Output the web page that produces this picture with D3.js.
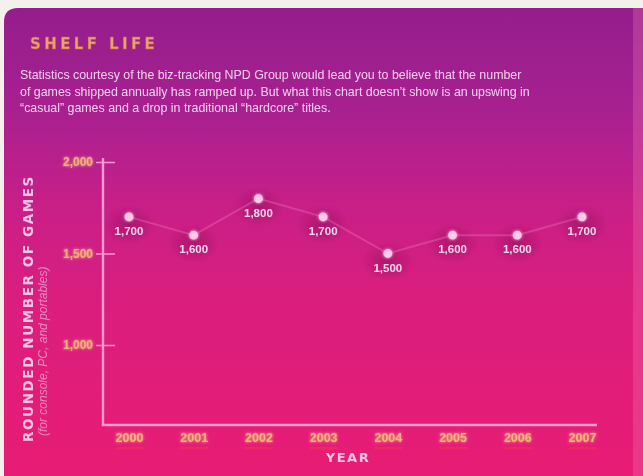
<!DOCTYPE html>
<html>
<head>
<meta charset="utf-8">
<script src="https://cdn.jsdelivr.net/npm/d3@7"></script>
<style>
  html, body { margin: 0; padding: 0; background: #f4f0ec; }
  svg { display: block; }
</style>
</head>
<body>
<svg id="chart" width="643" height="476"></svg>
<script>
// ---- data ----
const years = ["2000", "2001", "2002", "2003", "2004", "2005", "2006", "2007"];
const games = [1700, 1600, 1800, 1700, 1500, 1600, 1600, 1700];
const yTicks = [1000, 1500, 2000];
const titleText = "SHELF LIFE";
const bodyLines = [
  "Statistics courtesy of the biz-tracking NPD Group would lead you to believe that the number",
  "of games shipped annually has ramped up. But what this chart doesn\u2019t show is an upswing in",
  "\u201ccasual\u201d games and a drop in traditional \u201chardcore\u201d titles."
];
const yTitle = "ROUNDED NUMBER OF GAMES";
const ySubTitle = "(for console, PC, and portables)";
const xTitle = "YEAR";

// ---- drawing ----
const svg = d3.select("#chart");
const W = 643, H = 476;
const defs = svg.append("defs");

const bg = defs.append("linearGradient").attr("id", "bg")
  .attr("x1", 0).attr("y1", 0).attr("x2", 0).attr("y2", 1);
[["0%", "#941e8c"], ["22%", "#a82090"], ["42%", "#c81f88"], ["62%", "#da1e7e"], ["100%", "#e81c74"]]
  .forEach(([o, c]) => bg.append("stop").attr("offset", o).attr("stop-color", c));

const spot = defs.append("radialGradient").attr("id", "spot");
[["0%", "#8a0f55", 0.5], ["60%", "#8a0f55", 0.22], ["100%", "#8a0f55", 0]]
  .forEach(([o, c, op]) => spot.append("stop").attr("offset", o).attr("stop-color", c).attr("stop-opacity", op));

const glow = defs.append("filter").attr("id", "glow").attr("x", "-50%").attr("y", "-50%").attr("width", "200%").attr("height", "200%");
glow.append("feGaussianBlur").attr("stdDeviation", 1.6).attr("result", "b");
const gm = glow.append("feMerge");
gm.append("feMergeNode").attr("in", "b");
gm.append("feMergeNode").attr("in", "SourceGraphic");

const soft = defs.append("filter").attr("id", "soft").attr("x", "-10%").attr("y", "-30%").attr("width", "120%").attr("height", "160%");
soft.append("feGaussianBlur").attr("stdDeviation", 0.4);

// panel
svg.append("path")
  .attr("d", `M4,${H} L4,22 Q4,8 18,8 L${W},8 L${W},${H} Z`)
  .attr("fill", "url(#bg)");
svg.append("rect").attr("x", 633).attr("y", 8).attr("width", 10).attr("height", H - 8)
  .attr("fill", "#f27ab0").attr("opacity", 0.3);

// title
svg.append("text")
  .attr("x", 30).attr("y", 49)
  .attr("font-family", "DejaVu Sans, sans-serif")
  .attr("font-weight", "bold")
  .attr("font-size", 15)
  .attr("letter-spacing", 3.4)
  .attr("fill", "#e6a46a")
  .attr("stroke", "#c46a52").attr("stroke-width", 0.4)
  .attr("filter", "url(#soft)")
  .text(titleText);

// body
svg.append("g").selectAll("text").data(bodyLines).join("text")
  .attr("x", 20).attr("y", (d, i) => 79 + i * 16.5)
  .attr("font-family", "Liberation Sans, Arial, sans-serif")
  .attr("font-size", 12.4)
  .attr("fill", "#f6d2ec")
  .attr("filter", "url(#soft)")
  .text(d => d);

// scales
const x = d3.scalePoint().domain(years).range([129, 582]);
const y = d3.scaleLinear().domain([1000, 2000]).range([345, 162]);
const axisX = 103, axisBottom = 425, axisRight = 597;

// axes lines
const axisColor = "#f59ad0";
svg.append("line").attr("x1", axisX).attr("x2", axisX).attr("y1", y(2000) - 4).attr("y2", axisBottom)
  .attr("stroke", axisColor).attr("stroke-width", 2.4);
svg.append("line").attr("x1", axisX - 1.2).attr("x2", axisRight).attr("y1", axisBottom).attr("y2", axisBottom)
  .attr("stroke", axisColor).attr("stroke-width", 2.4);

// y axis ticks via d3 axis
const yAxis = svg.append("g")
  .attr("transform", `translate(${axisX},0)`)
  .call(d3.axisLeft(y).tickValues(yTicks).tickFormat(d3.format(",")).tickSize(8).tickPadding(2));
yAxis.select(".domain").remove();
yAxis.selectAll(".tick line").attr("stroke", axisColor).attr("stroke-width", 1.5).attr("x2", 12).attr("x1", -7);
yAxis.selectAll(".tick text")
  .attr("font-family", "Liberation Sans, Arial, sans-serif")
  .attr("font-weight", "bold")
  .attr("font-size", 12)
  .attr("fill", "#f0b27a")
  .attr("filter", "url(#glow)");

// x axis labels via d3 axis
const xAxis = svg.append("g")
  .attr("transform", `translate(0,${axisBottom})`)
  .call(d3.axisBottom(x).tickSize(0).tickPadding(8));
xAxis.select(".domain").remove();
xAxis.selectAll(".tick text")
  .attr("font-family", "Liberation Sans, Arial, sans-serif")
  .attr("font-weight", "bold")
  .attr("font-size", 12.5)
  .attr("fill", "#f4b47c")
  .attr("filter", "url(#glow)");
xAxis.selectAll(".tick").append("rect")
  .attr("x", -14).attr("y", 22).attr("width", 28).attr("height", 2.5)
  .attr("fill", "#ff5a3a").attr("opacity", 0.22);

// axis titles
svg.append("text")
  .attr("transform", `translate(33,${442}) rotate(-90)`)
  .attr("font-family", "DejaVu Sans, sans-serif")
  .attr("font-weight", "bold")
  .attr("font-size", 13.5)
  .attr("letter-spacing", 1.6)
  .attr("fill", "#f4c4e4")
  .attr("filter", "url(#soft)")
  .text(yTitle);
svg.append("text")
  .attr("transform", `translate(47,${436}) rotate(-90)`)
  .attr("font-family", "Liberation Sans, Arial, sans-serif")
  .attr("font-style", "italic")
  .attr("font-size", 12)
  .attr("fill", "#e88cc4")
  .attr("filter", "url(#soft)")
  .text(ySubTitle);
svg.append("text")
  .attr("x", 348).attr("y", 462)
  .attr("text-anchor", "middle")
  .attr("font-family", "DejaVu Sans, sans-serif")
  .attr("font-weight", "bold")
  .attr("font-size", 13)
  .attr("letter-spacing", 1.5)
  .attr("fill", "#f6c6e6")
  .attr("filter", "url(#soft)")
  .text(xTitle);

// data
const data = years.map((yr, i) => ({ year: yr, value: games[i] }));

svg.append("g").selectAll("ellipse").data(data).join("ellipse")
  .attr("cx", d => x(d.year)).attr("cy", d => y(d.value) + 8)
  .attr("rx", 26).attr("ry", 20)
  .attr("fill", "url(#spot)");

svg.append("path").datum(data)
  .attr("d", d3.line().x(d => x(d.year)).y(d => y(d.value)))
  .attr("fill", "none").attr("stroke", "#f78cc6").attr("stroke-width", 2).attr("opacity", 0.3);

svg.append("g").selectAll("circle").data(data).join("circle")
  .attr("cx", d => x(d.year)).attr("cy", d => y(d.value))
  .attr("r", 4.4)
  .attr("fill", "#ffc8e6")
  .attr("filter", "url(#glow)");

svg.append("g").selectAll("text").data(data).join("text")
  .attr("x", d => x(d.year)).attr("y", d => y(d.value) + 18)
  .attr("text-anchor", "middle")
  .attr("font-family", "Liberation Sans, Arial, sans-serif")
  .attr("font-weight", "bold")
  .attr("font-size", 11.5)
  .attr("fill", "#f8d6ee")
  .attr("filter", "url(#soft)")
  .text(d => d3.format(",")(d.value));
</script>
</body>
</html>
